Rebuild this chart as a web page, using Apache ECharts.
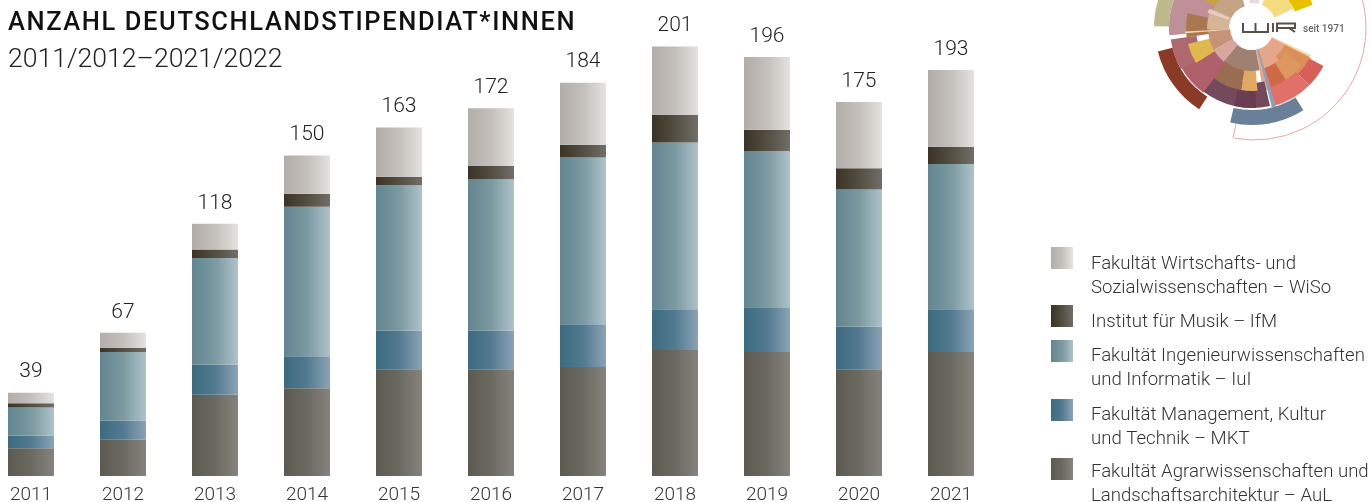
<!DOCTYPE html>
<html><head><meta charset="utf-8">
<style>html,body{margin:0;padding:0;background:#fff}#c{width:1371px;height:502px}</style>
<script src="https://cdn.jsdelivr.net/npm/echarts@6/dist/echarts.min.js"></script>
</head><body><div id="c"></div>
<script>
const categories=['2011','2012','2013','2014','2015','2016','2017','2018','2019','2020','2021'];
const totals=[39,67,118,150,163,172,184,201,196,175,193];
const aul=[13,17,38,41,50,50,51,59,58,50,58];
const mkt=[6,9,14,15,18,18,20,19,21,20,20];
const iui=[13,32,50,70,68,71,78,78,73,64,68];
const ifm=[2,2,4,6,4,6,6,13,10,10,8];
const wiso=[5,7,12,18,23,27,29,32,34,31,36];
const names=['Fakultät Agrarwissenschaften und\nLandschaftsarchitektur – AuL','Fakultät Management, Kultur\nund Technik – MKT','Fakultät Ingenieurwissenschaften\nund Informatik – IuI','Institut für Musik – IfM','Fakultät Wirtschafts- und\nSozialwissenschaften – WiSo'];
const gradients=[['#5c5a50','#6b6a62','#86837c'],['#3d6a80','#527a90','#8ca2b6'],['#628590','#7b99a0','#afc2ca'],['#3b3325','#524e41','#716e68'],['#b2ada8','#c3bfbb','#e5e2df']];
const font='Roboto';
// title is tracked out: apply canvas letterSpacing only to the title's font
const fd=Object.getOwnPropertyDescriptor(CanvasRenderingContext2D.prototype,'font');
Object.defineProperty(CanvasRenderingContext2D.prototype,'font',{get(){return fd.get.call(this)},set(v){fd.set.call(this,v);this.letterSpacing=/500 25\.5px/.test(v)?'1.6px':'0px';}});
const grad=g=>new echarts.graphic.LinearGradient(0,0,1,0,[{offset:0,color:g[0]},{offset:0.5,color:g[1]},{offset:1,color:g[2]}]);
const vals=[aul,mkt,iui,ifm,wiso];
const series=vals.map((d,i)=>({name:names[i],type:'bar',stack:'s',data:d,barWidth:46,itemStyle:{color:grad(gradients[i])},
  label:i===4?{show:true,position:'top',distance:10,fontFamily:font,fontWeight:300,fontSize:21,color:'#222',formatter:p=>String(totals[p.dataIndex])}:{show:false}}));

const C=[1252,28];
const d2r=Math.PI/180;
const wedges=[
[83,98,181,205,'#bdb98a'],[42,83,175,232,'#bf9097'],[42,66,172,193,'#aa7850'],[23,45,178,205,'#d4b596'],[25,47,199,204,'#e8ccc8'],[43,67,210,236,'#c8a048'],[23,43,205,252,'#c4a484'],[25,38,265,285,'#e8d8dc'],
[25,46,-67,-25,'#f5dc80'],[46,65,-40,-21,'#e8c000'],
[22,64,25,80,'#e6a68c'],[37,66,27,50,'#dc9058'],[65,81,28,45,'#d65f58'],[42,81,45,75,'#e07068'],[42,62,37,57,'#dc9860'],[42,62,57,72,'#cc6a48'],[22,65,24.5,26.5,'#f0dca0'],
[82,97,58,103,'#6a8098'],[22,82,73,76,'#8ba2b6'],
[55,80,77,128,'#74495c'],[63,80,87,103,'#6a3d52'],[42,63,85,100,'#e0a860'],[42,63,100,128,'#9a6c50'],[22,43,80,140,'#a08070'],
[43,81,127,152,'#b0606a'],[56,82,150,172,'#b06870'],[43,66,148,166,'#e0b850'],[82,97,123,166,'#8c3a28'],[22,44,130,150,'#d8a8a0'],[22,44,150,178,'#c8917a'],[23,67,175.5,177,'#f2dca8']];
const logo=wedges.map(w=>({type:'sector',z:2,shape:{cx:C[0],cy:C[1],r0:w[0],r:w[1],startAngle:w[2]*d2r,endAngle:w[3]*d2r},style:{fill:w[4]}}));
logo.push({type:'arc',z:2,shape:{cx:C[0]+2,cy:C[1],r:112,startAngle:-60*d2r,endAngle:100*d2r},style:{stroke:'#e6a8a0',lineWidth:1,fill:null}});
logo.push({type:'polyline',z:3,shape:{points:[[1233,138],[1236,124]]},style:{stroke:'#e6a8a0',lineWidth:1,fill:null}});
const ink='#55524a';
[[[1243,23],[1243,32],[1268,32],[1268,23]],[[1255.5,23],[1255.5,32]],[[1273,23],[1273,32]],[[1277,32],[1277,23.5],[1295,23.5],[1295,28],[1277,28]],[[1289,28],[1295,32]]].forEach(p=>logo.push({type:'polyline',z:3,shape:{points:p},style:{stroke:ink,lineWidth:2,fill:null}}));
logo.push({type:'text',z:3,x:1303,y:29,style:{text:'seit 1971',fontFamily:font,fontSize:10,fontWeight:500,fill:'#666',textVerticalAlign:'middle'}});

const legendTop=[247,305,340,399,458];
const legendTextTop=[252,310,344,403,460];
const legendOrder=[4,3,2,1,0];
const legend=[];
legendOrder.forEach((s,i)=>{
 legend.push({type:'rect',shape:{x:1051,y:legendTop[i],width:22,height:22},style:{fill:grad(gradients[s])}});
 legend.push({type:'text',x:1091,y:legendTextTop[i],style:{text:names[s],fontFamily:font,fontWeight:300,fontSize:18.6,lineHeight:24.3,fill:'#333'}});
});

const chart=echarts.init(document.getElementById('c'),null,{renderer:'canvas'});
chart.setOption({animation:false,backgroundColor:'#fff',
 title:[{text:'ANZAHL DEUTSCHLANDSTIPENDIAT*INNEN',left:8,top:10,padding:0,textStyle:{fontFamily:font,fontWeight:500,fontSize:25.5,color:'#111'}},
        {text:'2011/2012–2021/2022',left:8,top:47,padding:0,textStyle:{fontFamily:font,fontWeight:300,fontSize:26.6,color:'#222'}}],
 grid:{left:-15,top:0,width:1012,height:476,outerBoundsMode:'none'},
 xAxis:{type:'category',data:categories,axisLine:{show:false},axisTick:{show:false},axisLabel:{fontFamily:font,fontWeight:300,fontSize:19,color:'#333',margin:10,interval:0}},
 yAxis:{type:'value',min:0,max:222.7,show:false},
 series,
 graphic:{elements:[...logo,...legend]}
});
</script></body></html>
